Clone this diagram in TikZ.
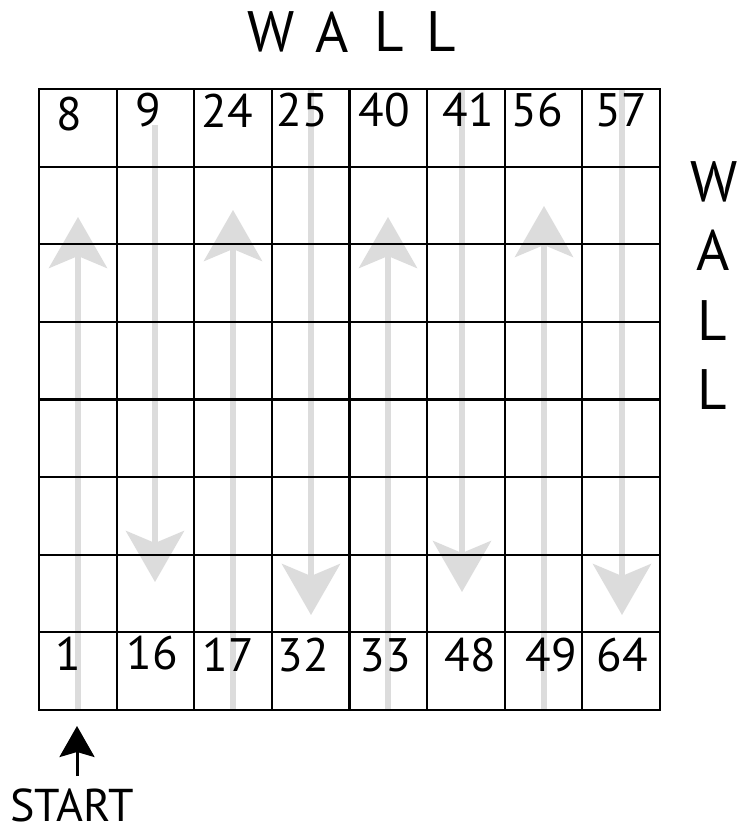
\documentclass[tikz,border=0pt]{standalone}
\usepackage{fontspec}
\setmainfont{PT Sans}
\usetikzlibrary{arrows.meta}
\definecolor{pathgray}{HTML}{DCDCDC}
\begin{document}
\begin{tikzpicture}[x=1pt,y=-1pt,
  gridline/.style={line width=2.2pt,black,line cap=rect},
  pathline/.style={draw=pathgray,line width=6pt},
  uparrow/.style={pathline,-{Stealth[length=51pt,width=58pt,inset=12pt,fill=pathgray]}},
  num/.style={inner sep=0pt,font=\fontsize{47}{47}\selectfont},
  wall/.style={inner sep=0pt,font=\fontsize{57}{57}\selectfont},
  startlbl/.style={inner sep=0pt,font=\fontsize{46}{46}\selectfont}]
\useasboundingbox (0,0) rectangle (739,830);
\fill[white] (0,0) rectangle (739,830);
% gray serpentine path arrows
\draw[uparrow] (78,710) -- (78,217);
\draw[uparrow] (155,125) -- (155,582);
\draw[uparrow] (233,710) -- (233,210);
\draw[uparrow] (311,89) -- (311,615);
\draw[uparrow] (388,710) -- (388,217);
\draw[uparrow] (462,89) -- (462,592);
\draw[uparrow] (544,710) -- (544,206);
\draw[uparrow] (622,89) -- (622,615);
% grid
\foreach \i in {0,...,8} {
  \draw[gridline] ({39+77.625*\i},89) -- ({39+77.625*\i},710);
  \draw[gridline] (39,{89+77.625*\i}) -- (660,{89+77.625*\i});
}
% numbers top row
\node[num] (n8)  at (69,114) {8};
\node[num] (n9)  at (148,110) {9};
\node[num] (n24) at (227,111) {24};
\node[num] (n25) at (302,110) {25};
\node[num] (n40) at (384,110) {40};
\node[num] (n41) at (468,110) {41};
\node[num] (n56) at (537,110) {56};
\node[num] (n57) at (621,110) {57};
% numbers bottom row
\node[num] (n1)  at (68,654) {1};
\node[num] (n16) at (152,653) {16};
\node[num] (n17) at (228,655) {17};
\node[num] (n32) at (303,655) {32};
\node[num] (n33) at (385,655) {33};
\node[num] (n48) at (470,655) {48};
\node[num] (n49) at (551,655) {49};
\node[num] (n64) at (622,655) {64};
% top wall label
\node[wall] (tw1) at (271,32) {W};
\node[wall] (ta)  at (332,32) {A};
\node[wall] (tl1) at (389,32) {L};
\node[wall] (tl2) at (441,32) {L};
% right wall label
\node[wall] (rw)  at (714,182) {W};
\node[wall] (ra)  at (713,250) {A};
\node[wall] (rl1) at (712,321) {L};
\node[wall] (rl2) at (712,390) {L};
% start
\node[startlbl] (start) at (72,805) {START};
\coordinate (starttail) at (77,776);
\coordinate (starttip) at (77,726);
\draw[line width=3pt,-{Stealth[length=31pt,width=35pt,inset=5pt]}] (starttail) -- (starttip);
\end{tikzpicture}
\end{document}
